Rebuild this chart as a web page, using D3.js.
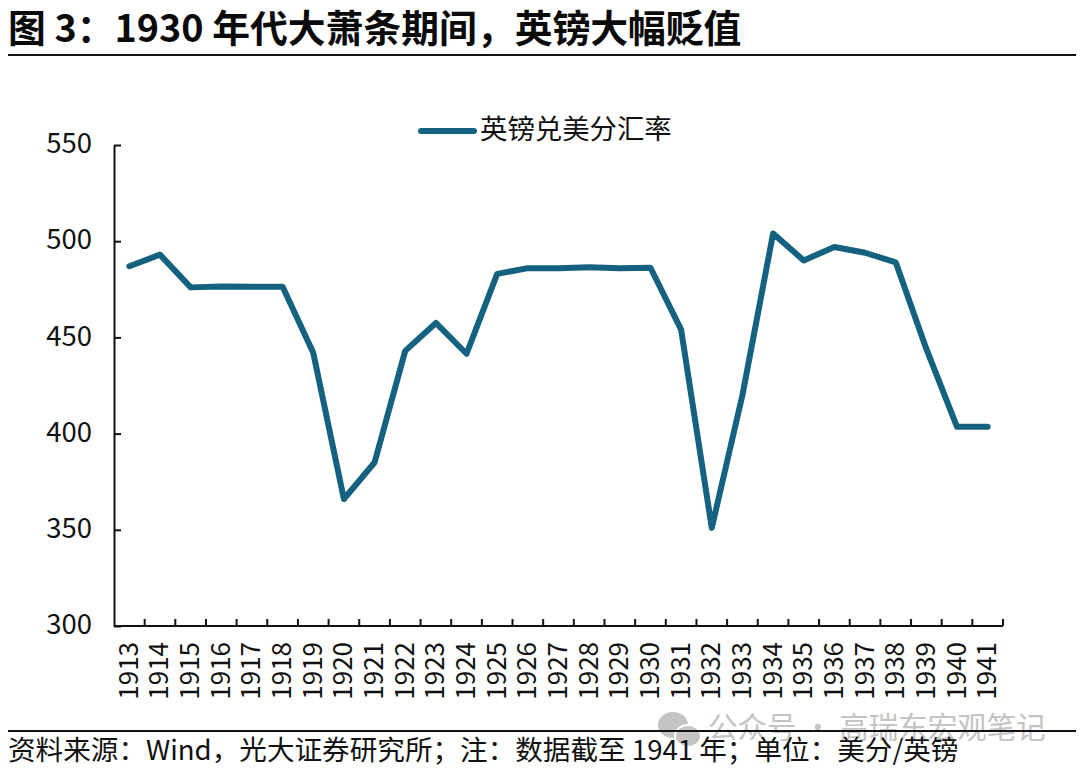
<!DOCTYPE html>
<html><head><meta charset="utf-8">
<script src="https://d3js.org/d3.v7.min.js"></script>
<style>html,body{margin:0;padding:0;background:#fff}svg{display:block}
text{font-family:"Noto Sans CJK SC","Noto Sans",sans-serif}</style></head>
<body><svg id="c" width="1080" height="772"></svg>
<script>
const years=["1913","1914","1915","1916","1917","1918","1919","1920","1921","1922","1923","1924","1925","1926","1927","1928","1929","1930","1931","1932","1933","1934","1935","1936","1937","1938","1939","1940","1941"];
const rates=[487,493,476,476.5,476.3,476.3,442,366,385,443,457.5,441.5,483,486,486,486.5,486,486.2,454,351,420,504,490,497,494,489,444,403.5,403.5];
const yTicks=[300,350,400,450,500,550];
const titleText="图 3：1930 年代大萧条期间，英镑大幅贬值";
const legendText="英镑兑美分汇率";
const sourceText="资料来源：Wind，光大证券研究所；注：数据截至 1941 年；单位：美分/英镑";
const watermarkText="公众号 · 高瑞东宏观笔记";
const color="#14627f";
const svg=d3.select("#c");
const x=d3.scaleBand().domain(years).range([114,1003]);
const y=d3.scaleLinear().domain([300,550]).range([626,145]);

svg.append("text").attr("x",8).attr("y",42).attr("font-size",37.8).attr("font-weight",700).attr("fill","#0a0a0a").text(titleText);
svg.append("line").attr("x1",8).attr("x2",1076).attr("y1",55).attr("y2",55).attr("stroke","#111").attr("stroke-width",2);

const wm=svg.append("g").attr("fill","#c4c4c4");
wm.append("ellipse").attr("cx",673).attr("cy",725).attr("rx",15).attr("ry",13);
wm.append("ellipse").attr("cx",688).attr("cy",736).attr("rx",13).attr("ry",11).attr("stroke","#fff").attr("stroke-width",2);
wm.append("text").attr("x",708).attr("y",738).attr("font-size",29.5).text(watermarkText);

const ya=svg.append("g").attr("transform","translate(114,0)").call(d3.axisLeft(y).tickValues(yTicks).tickSize(7).tickSizeOuter(0));
ya.selectAll("path,line").attr("stroke","#111").attr("stroke-width",2);
ya.selectAll("line").attr("x2",7);
ya.selectAll("text").attr("font-size",27.5).attr("fill","#111").attr("x",-22).attr("dy","0.28em").style("font-family",'"Noto Sans CJK SC"');
const xa=svg.append("g").attr("transform","translate(0,626)");
xa.append("line").attr("x1",114).attr("x2",1003).attr("stroke","#111").attr("stroke-width",2);
xa.selectAll("line.t").data(years).join("line").attr("class","t")
  .attr("x1",d=>x(d)+x.step()).attr("x2",d=>x(d)+x.step()).attr("y1",0).attr("y2",-7).attr("stroke","#111").attr("stroke-width",2);
xa.selectAll("text").data(years).join("text")
  .attr("transform",d=>`translate(${x(d)+x.bandwidth()/2+8.5},16) rotate(-90)`)
  .attr("text-anchor","end").attr("font-size",26).attr("fill","#111").text(d=>d);

const line=d3.line().x((d,i)=>x(years[i])+x.bandwidth()/2).y(d=>y(d));
svg.append("path").datum(rates).attr("d",line).attr("fill","none").attr("stroke",color).attr("stroke-width",6).attr("stroke-linejoin","round").attr("stroke-linecap","round");

svg.append("line").attr("x1",421).attr("x2",474).attr("y1",131).attr("y2",131).attr("stroke",color).attr("stroke-width",6).attr("stroke-linecap","round");
svg.append("text").attr("x",480).attr("y",139).attr("font-size",27.4).attr("fill","#111").text(legendText);

svg.append("line").attr("x1",8).attr("x2",1076).attr("y1",731).attr("y2",731).attr("stroke","#111").attr("stroke-width",2);
svg.append("text").attr("x",8).attr("y",760).attr("font-size",27.6).attr("fill","#111").text(sourceText);
</script></body></html>
